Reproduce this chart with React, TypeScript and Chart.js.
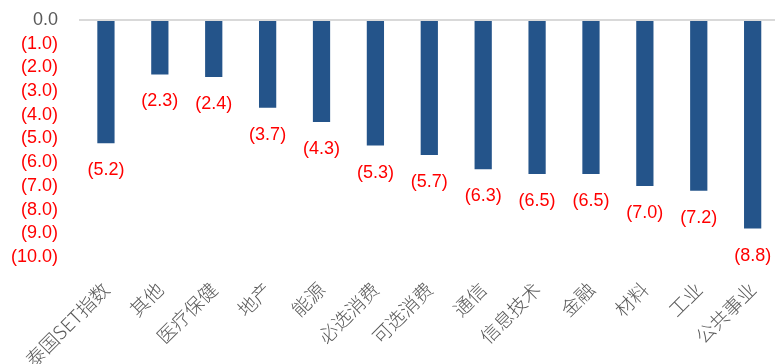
import React, { useEffect, useRef } from "react";
import { Chart, registerables } from "chart.js";

Chart.register(...registerables);

const categories = ["泰国SET指数", "其他", "医疗保健", "地产", "能源", "必选消费", "可选消费", "通信", "信息技术", "金融", "材料", "工业", "公共事业"];
const values = [-5.2, -2.3, -2.4, -3.7, -4.3, -5.3, -5.7, -6.3, -6.5, -6.5, -7.0, -7.2, -8.8];
const yMin = -10;
const yMax = 0;
const yStep = 1;

const fmt = (v: number) => (v === 0 ? "0.0" : v < 0 ? "(" + Math.abs(v).toFixed(1) + ")" : v.toFixed(1));
const numFont = "'Liberation Sans', Arial, sans-serif";

const valueLabels = {
  id: "valueLabels",
  afterDatasetsDraw(chart: any) {
    const ctx = chart.ctx;
    const meta = chart.getDatasetMeta(0);
    ctx.save();
    ctx.fillStyle = "#FF0000";
    ctx.font = "18px " + numFont;
    ctx.textAlign = "center";
    ctx.textBaseline = "middle";
    meta.data.forEach((el: any, i: number) => {
      const v = chart.data.datasets[0].data[i];
      ctx.fillText(fmt(v), el.x, el.y + 27);
    });
    ctx.restore();
  },
};

export default function App() {
  const ref = useRef<HTMLCanvasElement>(null);
  useEffect(() => {
    if (!ref.current) return;
    const chart = new Chart(ref.current, {
      type: "bar",
      data: {
        labels: categories,
        datasets: [
          {
            data: values,
            backgroundColor: "#24548A",
            borderWidth: 0,
            barPercentage: 0.32,
            categoryPercentage: 1,
          },
        ],
      },
      options: {
        animation: false,
        responsive: false,
        maintainAspectRatio: false,
        layout: { padding: { top: 20, right: 6, left: 0, bottom: 0 } },
        plugins: { legend: { display: false }, tooltip: { enabled: false } },
        scales: {
          x: {
            grid: { display: false, drawTicks: false },
            border: { display: false },
            ticks: {
              autoSkip: false,
              maxRotation: 45,
              minRotation: 45,
              padding: 21,
              color: "#595959",
              font: { family: "'Noto Sans CJK SC', sans-serif", size: 19, weight: "300" as any },
            },
            afterFit: (s: any) => {
              s.height = 107;
              s.paddingTop = 0;
              s.paddingBottom = 0;
            },
          },
          y: {
            min: yMin,
            max: yMax,
            grid: {
              drawTicks: false,
              lineWidth: 2,
              color: (c: any) => (c.tick && c.tick.value === 0 ? "#D9D9D9" : "rgba(0,0,0,0)"),
            },
            border: { display: false },
            ticks: {
              autoSkip: false,
              stepSize: yStep,
              padding: 21,
              color: (c: any) => (c.tick && c.tick.value === 0 ? "#595959" : "#FF0000"),
              font: { family: numFont, size: 18 },
              callback: (v: any) => fmt(Number(v)),
            },
            afterFit: (s: any) => {
              s.width = 79;
              s.paddingTop = 0;
              s.paddingBottom = 0;
            },
          },
        },
      },
      plugins: [valueLabels],
    });
    return () => chart.destroy();
  }, []);
  return (
    <canvas
      ref={ref}
      width={790}
      height={364}
      style={{ position: "fixed", left: 0, top: 0, width: 790, height: 364 }}
    />
  );
}
